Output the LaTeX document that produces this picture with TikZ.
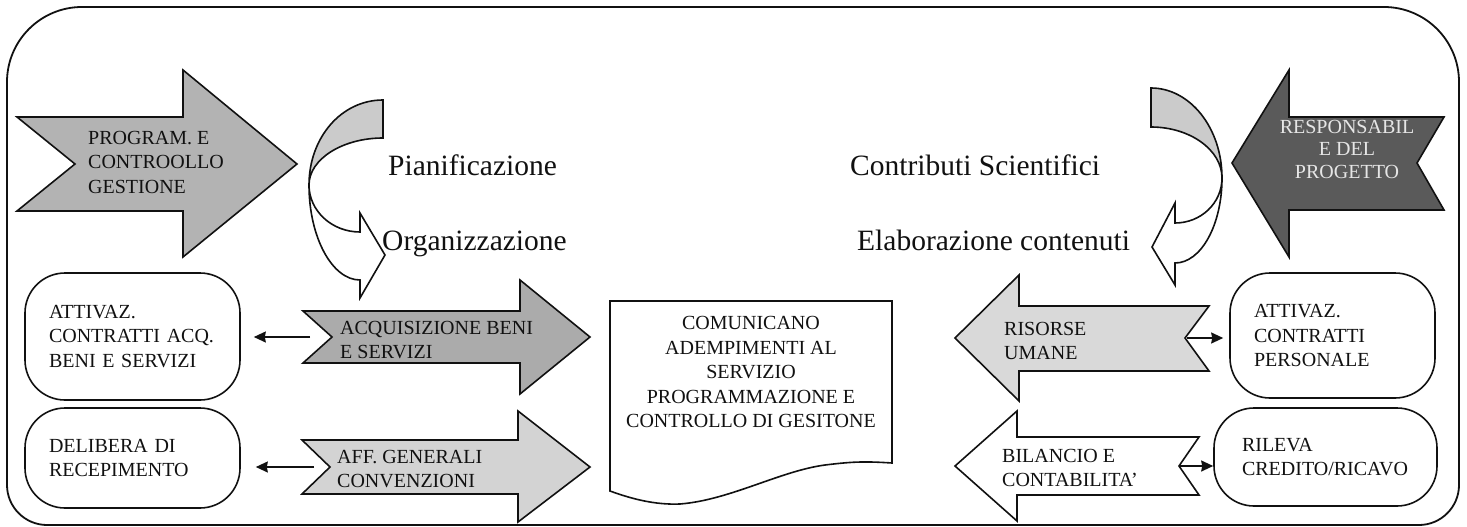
\documentclass[tikz,border=0pt]{standalone}
\usepackage{fontspec}
\setmainfont{Liberation Serif}
\usetikzlibrary{arrows.meta}
\definecolor{progfill}{HTML}{B3B3B3}
\definecolor{acqfill}{HTML}{ABABAB}
\definecolor{afffill}{HTML}{D3D3D3}
\definecolor{risfill}{HTML}{D9D9D9}
\definecolor{darkfill}{HTML}{5A5A5A}
\definecolor{curvefill}{HTML}{CBCBCB}
\definecolor{darktext}{HTML}{E6E6E6}
\definecolor{ink}{HTML}{111111}
\newcommand{\boxfont}{\fontsize{20}{24.5}\selectfont}
\newcommand{\respfont}{\fontsize{20}{22.5}\selectfont}
\newcommand{\bigfont}{\fontsize{29.5}{33}\selectfont}
\begin{document}
\begin{tikzpicture}[x=1pt,y=-1pt,
  shp/.style={draw=ink, line width=1.6pt, line join=miter},
  box/.style={draw=ink, line width=1.6pt, rounded corners=40pt, inner ysep=0pt, align=left, font=\boxfont, text=ink},
  lbl/.style={inner sep=0pt, align=left, font=\boxfont, text=ink},
  biglbl/.style={inner sep=0pt, font=\bigfont, text=ink, text height=0.7em, text depth=0.2em},
  conn/.style={draw=ink, line width=1.6pt, -{Stealth[length=12pt,width=11pt,inset=1pt]}}]
\useasboundingbox (0,0) rectangle (1467,527);
\fill[white] (0,0) rectangle (1467,527);
% outer frame
\draw[ink, line width=1.8pt] (82,7) -- (1384,7) .. controls (1425.4,7) and (1459,40.6) .. (1459,82)
  -- (1459,485) .. controls (1459,507) and (1441,525) .. (1419,525)
  -- (47,525) .. controls (25,525) and (7,507) .. (7,485)
  -- (7,82) .. controls (7,40.6) and (40.6,7) .. (82,7) -- cycle;
% PROGRAM arrow
\draw[shp, fill=progfill] (17,117) -- (183,117) -- (183,70) -- (297,164) -- (183,257) -- (183,211) -- (17,211) -- (75,164) -- cycle;
\node[lbl, anchor=west] (prog) at (88,162) {PROGRAM. E\\CONTROOLLO\\GESTIONE};
% left curved arrow
\draw[shp, fill=curvefill] (383,100) -- (383,138) .. controls (342.7,138) and (309,159) .. (309,185)
  .. controls (309,138) and (341,100) .. (383,100) -- cycle;
\draw[shp, fill=white] (309,185) .. controls (309,237) and (332,280) .. (360,280) -- (360,298) -- (385,255) -- (360,213) -- (360,232)
  .. controls (332,232) and (309,211) .. (309,185) -- cycle;
\node[biglbl, anchor=west] (pian) at (388,173) {Pianificazione};
\node[biglbl, anchor=west] (org) at (382,248) {Organizzazione};
% right curved arrow
\draw[shp, fill=curvefill] (1151,88) -- (1151,127) .. controls (1190,127) and (1222,150) .. (1222,178)
  .. controls (1222,128) and (1190,88) .. (1151,88) -- cycle;
\draw[shp, fill=white] (1222,178) .. controls (1222,225) and (1201,263) .. (1175,263) -- (1175,285) -- (1152,247) -- (1175,203) -- (1175,223)
  .. controls (1201,223) and (1222,203) .. (1222,178) -- cycle;
\node[biglbl, anchor=west] (contr) at (850,173) {Contributi Scientifici};
\node[biglbl, anchor=west] (elab) at (857,248) {Elaborazione contenuti};
% dark arrow
\draw[shp, fill=darkfill] (1444,117) -- (1289,117) -- (1289,70) -- (1232,163) -- (1289,257) -- (1289,210) -- (1444,210) -- (1417,163) -- cycle;
\node[inner sep=0pt, align=center, font=\respfont, text=darktext] (resp) at (1347,149) {RESPONSABIL\\E DEL\\PROGETTO};
% ACQ arrow
\draw[shp, fill=acqfill] (303,311) -- (520,311) -- (520,280) -- (590,337) -- (520,394) -- (520,363) -- (303,363) -- (332,337) -- cycle;
\node[lbl, anchor=west] (acq) at (340,340) {ACQUISIZIONE BENI\\E SERVIZI};
\coordinate (acqs) at (310,337);
% AFF arrow
\draw[shp, fill=afffill] (302,440) -- (518,440) -- (518,411) -- (590,467) -- (518,522) -- (518,494) -- (302,494) -- (330,467) -- cycle;
\node[lbl, anchor=west] (aff) at (337,469) {AFF. GENERALI\\CONVENZIONI};
\coordinate (affs) at (314,467);
% document
\draw[shp, fill=white] (610,301) -- (892,301) -- (892,463)
  .. controls (862,461) and (850,462) .. (825,465)
  .. controls (780,471) and (730,500) .. (680,504)
  .. controls (655,505) and (632,499) .. (610,491) -- cycle;
\node[lbl, align=center] (doc) at (751,372) {COMUNICANO\\ADEMPIMENTI AL\\SERVIZIO\\PROGRAMMAZIONE E\\CONTROLLO DI GESITONE};
% RISORSE arrow
\draw[shp, fill=risfill] (1209,306) -- (1019,306) -- (1019,275) -- (955,338) -- (1019,401) -- (1019,371) -- (1209,371) -- (1185,338) -- cycle;
\node[lbl, anchor=west] (ris) at (1004,341) {RISORSE\\UMANE};
\coordinate (riss) at (1187,338);
% BILANCIO arrow
\draw[shp, fill=white] (1199,437) -- (1017,437) -- (1017,411) -- (955,466) -- (1017,521) -- (1017,495) -- (1199,495) -- (1179,466) -- cycle;
\node[lbl, anchor=west] (bil) at (1002,468) {BILANCIO E\\CONTABILITA'};
\coordinate (bils) at (1180,466);
% boxes
\node[box, text width=167pt, inner xsep=24pt, minimum height=127pt] (b1) at (132.5,336.5) {ATTIVAZ.\\CONTRATTI ACQ.\\BENI E SERVIZI};
\node[box, text width=167pt, inner xsep=24pt, minimum height=100pt] (b2) at (132.5,458) {DELIBERA DI\\RECEPIMENTO};
\node[box, text width=157pt, inner xsep=24pt, minimum height=125pt] (b3) at (1332.5,335.5) {ATTIVAZ.\\CONTRATTI\\PERSONALE};
\node[box, text width=167pt, inner xsep=28pt, minimum height=98pt] (b4) at (1325.5,457) {RILEVA\\CREDITO/RICAVO};
% connectors
\draw[conn, shorten >=13pt] (acqs) -- (acqs -| b1.east);
\draw[conn, shorten >=15pt] (affs) -- (affs -| b2.east);
\draw[conn, shorten >=6pt] (riss) -- (riss -| b3.west);
\draw[conn] (bils) -- (bils -| b4.west);
\end{tikzpicture}
\end{document}
